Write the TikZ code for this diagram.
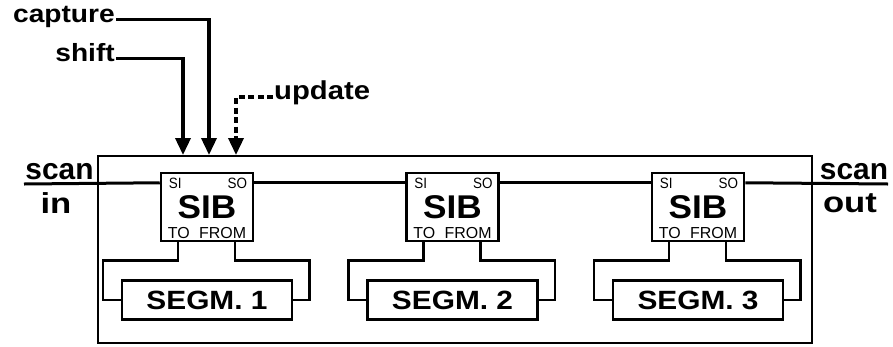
\documentclass[tikz,border=0pt]{standalone}
\usepackage{fontspec}
\setmainfont{Liberation Sans}
\newfontfamily\widefont[FakeStretch=1.13]{Liberation Sans}
\newfontfamily\sibfont[FakeStretch=1.07]{Liberation Sans}
\newfontfamily\inoutfont[FakeStretch=1.2]{Liberation Sans}
\newfontfamily\narrowfont[FakeStretch=0.9]{Liberation Sans}
\usepackage{tikz}
\usetikzlibrary{arrows.meta, positioning}

\begin{document}
\begin{tikzpicture}[
    x=1bp, y=-1bp,
    node distance=37bp and 151bp,
    chipbox/.style={draw, line width=2bp, minimum width=714bp, minimum height=187bp, inner sep=0},
    sib/.style={draw, fill=white, line width=2.5bp, minimum width=92bp, minimum height=68bp, inner sep=0, font=\sibfont\bfseries\fontsize{33}{33}\selectfont},
    segm/.style={draw, fill=white, line width=2.5bp, minimum width=170bp, minimum height=39bp, inner sep=0, font=\widefont\bfseries\fontsize{26.5}{26.5}\selectfont},
    pinsmall/.style={inner sep=0, font=\narrowfont\fontsize{15}{15}\selectfont},
    pinlarge/.style={inner sep=0, font=\fontsize{16}{16}\selectfont},
    sig/.style={inner sep=1bp, font=\widefont\bfseries\fontsize{25}{25}\selectfont},
    scanlab/.style={inner sep=0, font=\bfseries\fontsize{30}{30}\selectfont},
    inoutlab/.style={inner sep=0, font=\inoutfont\bfseries\fontsize{29}{29}\selectfont},
    wire/.style={line width=2.5bp},
    scanline/.style={line width=3bp},
    ctrl/.style={line width=3.5bp, -{Triangle[width=15bp,length=17bp]}}
]
\useasboundingbox (0,0) rectangle (893,346);
\node[chipbox] (chip) at (455,249.5) {};

\node[sib] (s1) at (207,207) {SIB};
\node[sib, right=of s1] (s2) {SIB};
\node[sib, right=of s2] (s3) {SIB};
\node[segm, below=of s1] (g1) {SEGM. 1};
\node[segm, below=of s2] (g2) {SEGM. 2};
\node[segm, below=of s3] (g3) {SEGM. 3};

\foreach \i in {1,2,3}{
  \node[pinsmall, anchor=north west] at ([xshift=9bp,yshift=-6bp]s\i.north west) {SI};
  \node[pinsmall, anchor=north east] at ([xshift=-7bp,yshift=-6bp]s\i.north east) {SO};
  \node[pinlarge, anchor=south west] at ([xshift=8bp,yshift=3.5bp]s\i.south west) {TO};
  \node[pinlarge, anchor=south east] at ([xshift=-8bp,yshift=3.5bp]s\i.south east) {FROM};
  \coordinate (si\i) at ([yshift=-11bp]s\i.north west);
  \coordinate (so\i) at ([yshift=-11bp]s\i.north east);
  \draw[wire] ([xshift=-29bp]s\i.south) -- ++(0,18) -| ([xshift=-18bp]g\i.west) -- (g\i.west);
  \draw[wire] ([xshift=28bp]s\i.south) -- ++(0,18) -| ([xshift=16bp]g\i.east) -- (g\i.east);
}

\coordinate (scanin) at (24,184);
\coordinate (scanout) at (888,184);
\draw[scanline] (scanin) -- (si1);
\draw[scanline] (so1) -- (si2);
\draw[scanline] (so2) -- (si3);
\draw[scanline] (so3) -- (scanout);
\node[scanlab, anchor=base] (scanA) at (59.5,179) {scan};
\node[inoutlab, anchor=base] (scanB) at (56,213) {in};
\node[scanlab, anchor=base] (scanC) at (854,179) {scan};
\node[inoutlab, anchor=base] (scanD) at (850,212) {out};

\node[sig, anchor=mid east] (capture) at (116,19.5) {capture};
\node[sig, anchor=mid east] (shift) at (116,58.5) {shift};
\node[sig, anchor=mid west, font=\widefont\bfseries\fontsize{26}{26}\selectfont] (update) at (273,97) {update};

\draw[ctrl] (capture.mid east) -| ([xshift=-246bp]chip.north);
\draw[ctrl] (shift.mid east) -| ([xshift=-272bp]chip.north);
\draw[ctrl, dash pattern=on 6bp off 3.5bp] (update.mid west) -| ([xshift=-219bp]chip.north);
\end{tikzpicture}
\end{document}
